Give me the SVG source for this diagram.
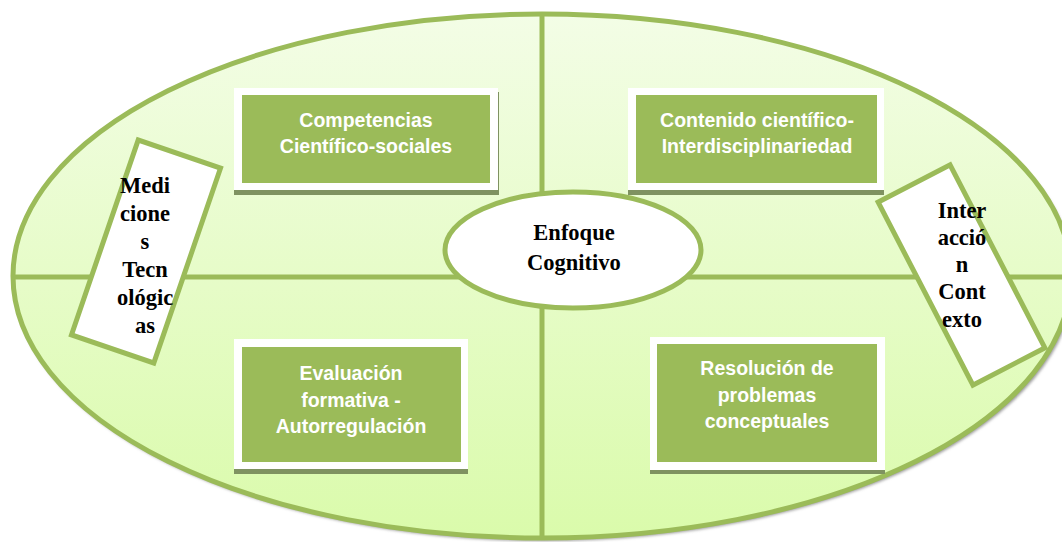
<svg xmlns="http://www.w3.org/2000/svg" width="1062" height="542" viewBox="0 0 1062 542">
  <defs>
    <linearGradient id="bg" x1="0" y1="0" x2="0" y2="1">
      <stop offset="0" stop-color="#f3fde6"/>
      <stop offset="1" stop-color="#dafbab"/>
    </linearGradient>
    <filter id="blur" x="-5%" y="-5%" width="110%" height="110%">
      <feGaussianBlur stdDeviation="1.5"/>
    </filter>
    <style>
      .line { stroke: #9bbb59; stroke-width: 5; fill: none; }
      .boxShadow { fill: #7f9261; }
      .boxOuter { fill: #ffffff; }
      .boxInner { fill: #9bbb59; }
      .boxText { font-family: "Liberation Sans", Arial, sans-serif; font-weight: bold; font-size: 19.5px; fill: #ffffff; text-anchor: middle; }
      .tag { fill: #ffffff; stroke: #9bbb59; stroke-width: 5; }
      .serif { font-family: "Liberation Serif", "Times New Roman", serif; font-weight: bold; font-size: 22.5px; fill: #000000; text-anchor: middle; }
    </style>
  </defs>

  <g id="frame">
    <ellipse cx="544" cy="279" rx="530" ry="262" fill="#9a9a9a" filter="url(#blur)"/>
    <ellipse cx="542" cy="276" rx="529" ry="262" fill="url(#bg)" stroke="#9bbb59" stroke-width="5"/>
  </g>

  <g id="connectors">
    <line class="line" x1="542" y1="15" x2="542" y2="537"/>
    <line class="line" x1="14" y1="277" x2="1070" y2="277"/>
  </g>

  <g id="node-competencias">
    <rect class="boxShadow" x="234" y="92" width="265" height="103"/>
    <rect class="boxOuter" x="234" y="88" width="264" height="102"/>
    <rect class="boxInner" x="242" y="95" width="248" height="88"/>
    <text class="boxText" x="366" y="127">Competencias</text>
    <text class="boxText" x="366" y="153">Científico-sociales</text>
  </g>

  <g id="node-contenido">
    <rect class="boxShadow" x="628" y="92" width="256" height="103"/>
    <rect class="boxOuter" x="628" y="88" width="256" height="102"/>
    <rect class="boxInner" x="636" y="95" width="241" height="88"/>
    <text class="boxText" x="757" y="127">Contenido científico-</text>
    <text class="boxText" x="757" y="153">Interdisciplinariedad</text>
  </g>

  <g id="node-evaluacion">
    <rect class="boxShadow" x="234" y="343" width="234" height="131"/>
    <rect class="boxOuter" x="234" y="339" width="234" height="130"/>
    <rect class="boxInner" x="242" y="347" width="219" height="115"/>
    <text class="boxText" x="351" y="380">Evaluación</text>
    <text class="boxText" x="351" y="407">formativa -</text>
    <text class="boxText" x="351" y="433">Autorregulación</text>
  </g>

  <g id="node-resolucion">
    <rect class="boxShadow" x="650" y="341" width="235" height="133"/>
    <rect class="boxOuter" x="650" y="337" width="235" height="133"/>
    <rect class="boxInner" x="657" y="344" width="220" height="118"/>
    <text class="boxText" x="767" y="375">Resolución de</text>
    <text class="boxText" x="767" y="402">problemas</text>
    <text class="boxText" x="767" y="428">conceptuales</text>
  </g>

  <g id="node-enfoque">
    <ellipse cx="573" cy="250" rx="128" ry="58" fill="#ffffff" stroke="#9bbb59" stroke-width="5"/>
    <text class="serif" x="574" y="240">Enfoque</text>
    <text class="serif" x="574" y="270">Cognitivo</text>
  </g>

  <g id="node-mediciones">
    <rect class="tag" x="-43.5" y="-103" width="87" height="206" transform="translate(146 251.5) rotate(18.9)"/>
    <text class="serif" x="145" y="193">Medi</text>
    <text class="serif" x="145" y="221">cione</text>
    <text class="serif" x="145" y="249">s</text>
    <text class="serif" x="145" y="277">Tecn</text>
    <text class="serif" x="145" y="305">ológic</text>
    <text class="serif" x="145" y="333">as</text>
  </g>

  <g id="node-interaccion">
    <rect class="tag" x="-40.5" y="-103" width="81" height="206" transform="translate(961.5 275) rotate(-27.4)"/>
    <text class="serif" x="962" y="218">Inter</text>
    <text class="serif" x="962" y="245">acció</text>
    <text class="serif" x="962" y="272">n</text>
    <text class="serif" x="962" y="299">Cont</text>
    <text class="serif" x="962" y="327">exto</text>
  </g>
</svg>
